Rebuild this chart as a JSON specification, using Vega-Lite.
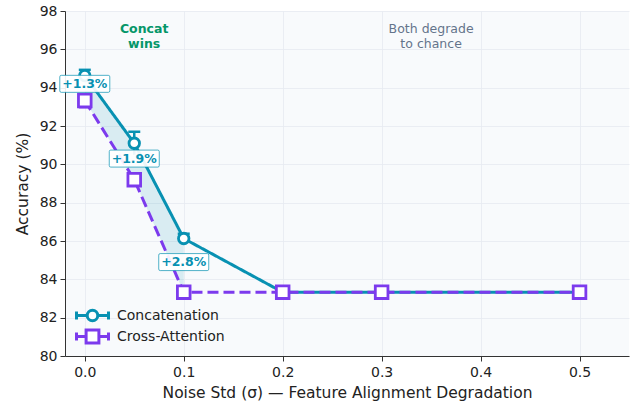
{
  "$schema": "https://vega.github.io/schema/vega-lite/v6.json",
  "width": 564,
  "height": 345,
  "autosize": "none",
  "padding": {"left": 65, "top": 11, "right": 4, "bottom": 49},
  "background": "white",
  "config": {
    "font": "DejaVu Sans",
    "view": {"stroke": null, "fill": "#f8fafc"},
    "axis": {
      "domainColor": "#333333",
      "domainWidth": 1,
      "tickColor": "#333333",
      "tickSize": 5,
      "labelColor": "#222222",
      "labelFontSize": 14,
      "labelFont": "DejaVu Sans",
      "titleFont": "DejaVu Sans",
      "titleFontSize": 15.5,
      "titleFontWeight": "normal",
      "titleColor": "#222222",
      "gridColor": "#e6eaf0",
      "gridWidth": 0.8,
      "tickCount": 30
    }
  },
  "datasets": {
    "series": [
      {"sigma": 0, "acc": 94.63, "method": "Concatenation"},
      {"sigma": 0.05, "acc": 91.1, "method": "Concatenation"},
      {"sigma": 0.1, "acc": 86.13, "method": "Concatenation"},
      {"sigma": 0.2, "acc": 83.33, "method": "Concatenation"},
      {"sigma": 0.3, "acc": 83.33, "method": "Concatenation"},
      {"sigma": 0.5, "acc": 83.33, "method": "Concatenation"},
      {"sigma": 0, "acc": 93.33, "method": "Cross-Attention"},
      {"sigma": 0.05, "acc": 89.2, "method": "Cross-Attention"},
      {"sigma": 0.1, "acc": 83.33, "method": "Cross-Attention"},
      {"sigma": 0.2, "acc": 83.33, "method": "Cross-Attention"},
      {"sigma": 0.3, "acc": 83.33, "method": "Cross-Attention"},
      {"sigma": 0.5, "acc": 83.33, "method": "Cross-Attention"}
    ],
    "errors": [
      {"sigma": 0, "acc": 94.93, "lo": 94.33, "method": "Concatenation"},
      {"sigma": 0.05, "acc": 91.7, "lo": 90.5, "method": "Concatenation"},
      {"sigma": 0.1, "acc": 86.38, "lo": 85.88, "method": "Concatenation"},
      {"sigma": 0, "acc": 93.68, "lo": 92.98, "method": "Cross-Attention"},
      {"sigma": 0.05, "acc": 89.5, "lo": 88.9, "method": "Cross-Attention"}
    ],
    "gap": [
      {"sigma": 0, "acc": 94.63, "lo": 93.33},
      {"sigma": 0.05, "acc": 91.1, "lo": 89.2},
      {"sigma": 0.1, "acc": 86.13, "lo": 83.33}
    ],
    "labels": [
      {"sigma": 0, "acc": 94.2, "label": "+1.3%"},
      {"sigma": 0.05, "acc": 90.3, "label": "+1.9%"},
      {"sigma": 0.1, "acc": 84.9, "label": "+2.8%"}
    ],
    "band": [{"start": 0, "end": 0.12}]
  },
  "encoding": {
    "x": {
      "field": "sigma", "type": "quantitative",
      "scale": {"domain": [-0.02, 0.55], "nice": false, "zero": false},
      "axis": {"values": [0, 0.1, 0.2, 0.3, 0.4, 0.5], "format": ".1f", "grid": true, "title": "Noise Std (σ) — Feature Alignment Degradation", "labelPadding": 4, "titlePadding": 6, "tickCount": 30}
    },
    "y": {
      "field": "acc", "type": "quantitative",
      "scale": {"domain": [80, 98], "nice": false, "zero": false},
      "axis": {"values": [80, 82, 84, 86, 88, 90, 92, 94, 96, 98], "format": "d", "grid": true, "title": "Accuracy (%)", "labelPadding": 3, "titlePadding": 9, "tickCount": 30}
    }
  },
  "layer": [
    {
      "data": {"name": "band"},
      "mark": {"type": "rect", "fill": "#10b981", "fillOpacity": 0.045},
      "encoding": {
        "x": {"field": "start", "type": "quantitative", "scale": {"domain": [-0.02, 0.55], "nice": false, "zero": false}, "axis": {"values": [0, 0.1, 0.2, 0.3, 0.4, 0.5], "format": ".1f", "grid": true, "title": "Noise Std (σ) — Feature Alignment Degradation", "labelPadding": 4, "titlePadding": 6, "tickCount": 30}},
        "x2": {"field": "end"},
        "y": {"datum": 98, "type": "quantitative", "scale": {"domain": [80, 98], "nice": false, "zero": false}, "axis": {"values": [80, 82, 84, 86, 88, 90, 92, 94, 96, 98], "format": "d", "grid": true, "title": "Accuracy (%)", "labelPadding": 3, "titlePadding": 9, "tickCount": 30}},
        "y2": {"datum": 80}
      }
    },
    {
      "data": {"name": "gap"},
      "mark": {"type": "area", "color": "#0891b2", "opacity": 0.13},
      "encoding": {
        "y2": {"field": "lo"}
      }
    },
    {
      "data": {"name": "series"},
      "mark": {"type": "line", "strokeWidth": 3},
      "encoding": {
        "color": {
          "field": "method", "type": "nominal",
          "scale": {"domain": ["Concatenation", "Cross-Attention"], "range": ["#0891b2", "#7c3aed"]},
          "legend": {
            "title": null,
            "orient": "none",
            "legendX": 18,
            "legendY": 295,
            "padding": 0,
            "symbolSize": 256,
            "symbolStrokeWidth": 3,
            "labelFontSize": 14,
            "labelFont": "DejaVu Sans",
            "labelColor": "#222222",
            "labelOffset": 15,
            "rowPadding": -5,
            "encode": {
              "symbols": {
                "update": {
                  "shape": {"signal": "datum.value === 'Concatenation' ? 'M-2,-0.5L-2,0.5M2,-0.5L2,0.5M-2,0L-0.66,0M0.66,0L2,0M0.66,0A0.66,0.66 0 1,1 -0.66,0A0.66,0.66 0 1,1 0.66,0Z' : 'M-2,-0.5L-2,0.5M2,-0.5L2,0.5M-2,0L-0.8,0M0.8,0L2,0M-0.8,-0.8L0.8,-0.8L0.8,0.8L-0.8,0.8Z'"},
                  "fill": {"value": "white"},
                  "fillOpacity": {"value": 1},
                  "opacity": {"value": 1},
                  "strokeWidth": {"value": 3}
                }
              }
            }
          }
        },
        "strokeDash": {"condition": {"test": "datum.method === 'Cross-Attention'", "value": [11, 5]}, "value": [1, 0]}
      }
    },
    {
      "data": {"name": "errors"},
      "transform": [{"filter": "datum.method === 'Concatenation'"}],
      "mark": {"type": "rule", "color": "#0891b2", "strokeWidth": 2.5},
      "encoding": {"y2": {"field": "lo"}}
    },
    {
      "data": {"name": "errors"},
      "transform": [{"filter": "datum.method === 'Concatenation'"}],
      "mark": {"type": "tick", "orient": "horizontal", "color": "#0891b2", "size": 12, "thickness": 2.5, "opacity": 1}
    },
    {
      "data": {"name": "series"},
      "transform": [{"filter": "datum.method === 'Concatenation'"}],
      "mark": {"type": "point", "shape": "circle", "size": 110, "filled": true, "fill": "white", "stroke": "#0891b2", "opacity": 1, "strokeWidth": 2.8}
    },
    {
      "data": {"name": "errors"},
      "transform": [{"filter": "datum.method === 'Cross-Attention'"}],
      "mark": {"type": "rule", "color": "#7c3aed", "strokeWidth": 2.5},
      "encoding": {"y2": {"field": "lo"}}
    },
    {
      "data": {"name": "errors"},
      "transform": [{"filter": "datum.method === 'Cross-Attention'"}],
      "mark": {"type": "tick", "orient": "horizontal", "color": "#7c3aed", "size": 12, "thickness": 2.5, "opacity": 1},
      "encoding": {"y": {"field": "lo", "type": "quantitative"}}
    },
    {
      "data": {"name": "series"},
      "transform": [{"filter": "datum.method === 'Cross-Attention'"}],
      "mark": {"type": "point", "shape": "square", "size": 160, "filled": true, "fill": "white", "stroke": "#7c3aed", "opacity": 1, "strokeWidth": 2.8}
    },
    {
      "data": {"name": "labels"},
      "mark": {"type": "point", "shape": "M-0.94,-0.34L0.94,-0.34Q1,-0.34 1,-0.28L1,0.28Q1,0.34 0.94,0.34L-0.94,0.34Q-1,0.34 -1,0.28L-1,-0.28Q-1,-0.34 -0.94,-0.34Z", "size": 2500, "filled": true, "fill": "white", "fillOpacity": 0.92, "stroke": "#0891b2", "strokeOpacity": 0.7, "strokeWidth": 1, "opacity": 1}
    },
    {
      "data": {"name": "labels"},
      "mark": {"type": "text", "font": "DejaVu Sans", "fontSize": 12.5, "fontWeight": "bold", "color": "#0891b2", "align": "center", "baseline": "middle"},
      "encoding": {
        "text": {"field": "label"}
      }
    },
    {
      "data": {"values": [{"sigma": 0.06, "acc": 97.35, "text": ["Concat", "wins"]}]},
      "mark": {"type": "text", "font": "DejaVu Sans", "fontSize": 12.5, "fontWeight": "bold", "color": "#059669", "align": "center", "baseline": "top", "lineHeight": 14.5},
      "encoding": {
        "text": {"field": "text"}
      }
    },
    {
      "data": {"values": [{"sigma": 0.35, "acc": 97.35, "text": ["Both degrade", "to chance"]}]},
      "mark": {"type": "text", "font": "DejaVu Sans", "fontSize": 12.5, "color": "#64748b", "align": "center", "baseline": "top", "lineHeight": 14.5},
      "encoding": {
        "text": {"field": "text"}
      }
    }
  ]
}
